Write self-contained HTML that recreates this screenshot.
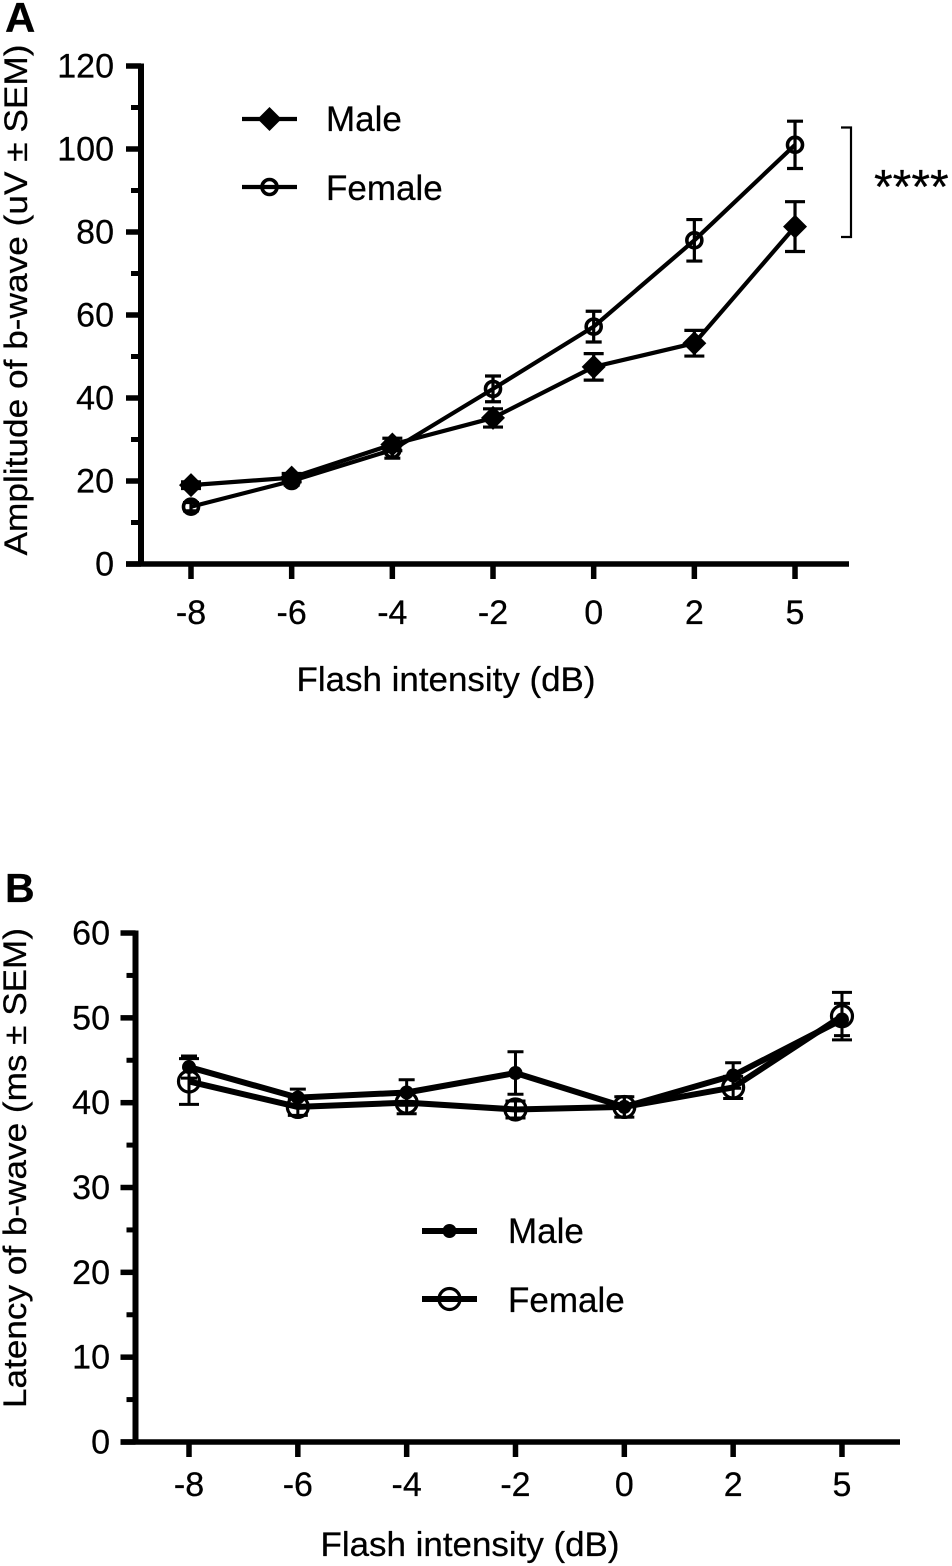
<!DOCTYPE html>
<html lang="en">
<head>
<meta charset="utf-8">
<title>Amplitude and latency of b-wave by flash intensity</title>
<style>
html,body{margin:0;padding:0;background:#fff;width:952px;height:1566px;overflow:hidden}
svg{display:block}
text{font-family:"Liberation Sans",Arial,sans-serif;fill:#000;stroke:#000;stroke-width:0.25px}
</style>
</head>
<body>
<svg id="figure" width="952" height="1566" viewBox="0 0 952 1566" xmlns="http://www.w3.org/2000/svg">
  <rect width="952" height="1566" fill="#fff"/>
  <text x="5" y="32" font-size="42" font-weight="700">A</text>
  <text x="5" y="902" font-size="41" font-weight="700">B</text>
  <text transform="translate(27,300) rotate(-90)" text-anchor="middle" font-size="32" textLength="511" lengthAdjust="spacingAndGlyphs">Amplitude of b-wave (uV ± SEM)</text>
  <text x="446" y="691" text-anchor="middle" font-size="34.5" textLength="299" lengthAdjust="spacingAndGlyphs">Flash intensity (dB)</text>
  <text transform="translate(26,1168) rotate(-90)" text-anchor="middle" font-size="32" textLength="480" lengthAdjust="spacingAndGlyphs">Latency of b-wave (ms ± SEM)</text>
  <text x="470" y="1556" text-anchor="middle" font-size="34.5" textLength="299" lengthAdjust="spacingAndGlyphs">Flash intensity (dB)</text>
  <text x="326" y="131" font-size="35">Male</text>
  <text x="326" y="200" font-size="35">Female</text>
  <text x="508" y="1243" font-size="35">Male</text>
  <text x="508" y="1312" font-size="35">Female</text>
  <path d="M841 127.500H851V237H841" fill="none" stroke="#000" stroke-width="2.200"/>
  <text x="874" y="203" font-size="48">****</text>
</svg>
<script>
const categories = ['-8', '-6', '-4', '-2', '0', '2', '5'];

const amplitudeTicks = [0, 20, 40, 60, 80, 100, 120];
const amplitudeMinorTicks = [10, 30, 50, 70, 90, 110];
const amplitudeMale = [19, 20.8, 28.8, 35.2, 47.5, 53.2, 81.3];
const amplitudeMaleSem = [0.8, 1, 1.5, 2.2, 3.2, 3.1, 6];
const amplitudeFemale = [13.8, 20, 27.5, 42.2, 57.2, 78, 101];
const amplitudeFemaleSem = [1, 1, 2, 3.1, 3.7, 5, 5.7];

const latencyTicks = [0, 10, 20, 30, 40, 50, 60];
const latencyMinorTicks = [5, 15, 25, 35, 45, 55];
const latencyMale = [44.2, 40.6, 41.2, 43.5, 39.5, 43.2, 49.8];
const latencyMaleSem = [1.3, 1, 1.5, 2.5, 1.2, 1.5, 1.9];
const latencyFemale = [42.5, 39.5, 40, 39.2, 39.5, 41.8, 50.2];
const latencyFemaleSem = [2.7, 1, 1.3, 1, 1.2, 1.3, 2.8];

const svg = document.getElementById('figure');
const INK = '#000';
const NS = 'http://www.w3.org/2000/svg';

function add(tag, attrs) {
  const el = document.createElementNS(NS, tag);
  for (const k in attrs) el.setAttribute(k, attrs[k]);
  svg.appendChild(el);
  return el;
}

function drawMarker(kind, x, y, size, strokeW, name) {
  let el;
  if (kind === 'diamond') {
    el = add('polygon', {points: [x - size, y, x, y - size, x + size, y, x, y + size].join(' '), fill: INK});
  } else if (kind === 'dot') {
    el = add('circle', {cx: x, cy: y, r: size, fill: INK});
  } else {
    el = add('circle', {cx: x, cy: y, r: size, fill: 'none', stroke: INK, 'stroke-width': strokeW});
  }
  
  
}

function drawSeries(p, key, values, sem, kind, size, capHalf) {
  const points = values.map((v, i) => p.xScale(i) + ',' + p.yScale(v)).join(' ');
  const line = add('polyline', {points: points, fill: 'none', stroke: INK, 'stroke-width': p.lineW, 'stroke-linejoin': 'round'});
  
  
  values.forEach((v, i) => {
    const x = p.xScale(i);
    const top = p.yScale(v + sem[i]);
    const bottom = p.yScale(v - sem[i]);
    const d = 'M' + x + ' ' + top + 'V' + bottom +
      'M' + (x - capHalf) + ' ' + top + 'H' + (x + capHalf) +
      'M' + (x - capHalf) + ' ' + bottom + 'H' + (x + capHalf);
    const err = add('path', {d: d, fill: 'none', stroke: INK, 'stroke-width': p.errW});
    
    
  });
  values.forEach((v, i) => {
    drawMarker(kind, p.xScale(i), p.yScale(v), size, p.ringW, p.id + '-' + key + '-point');
  });
}

function drawAxes(p, ticks, minorTicks) {
  const yAxis = add('line', {x1: p.axisX, x2: p.axisX, y1: p.yScale(p.yMax) - 2.500, y2: p.yScale(0) + 2.500, stroke: INK, 'stroke-width': 6});
  
  
  const xAxis = add('line', {x1: p.axisX - p.majorLen, x2: p.axisEnd, y1: p.yScale(0), y2: p.yScale(0), stroke: INK, 'stroke-width': 5.500});
  
  
  ticks.forEach(t => {
    const y = p.yScale(t);
    const tick = add('line', {x1: p.axisX - p.majorLen, x2: p.axisX, y1: y, y2: y, stroke: INK, 'stroke-width': 5.500});
    
    
    const label = add('text', {x: p.labelRight, y: y + 11.500, 'text-anchor': 'end', 'font-size': 34});
    label.textContent = String(t);
    
    
  });
  minorTicks.forEach(t => {
    const y = p.yScale(t);
    const tick = add('line', {x1: p.axisX - p.minorLen, x2: p.axisX, y1: y, y2: y, stroke: INK, 'stroke-width': 5});
    
    
  });
  categories.forEach((c, i) => {
    const x = p.xScale(i);
    const tick = add('line', {x1: x, x2: x, y1: p.yScale(0), y2: p.yScale(0) + 15, stroke: INK, 'stroke-width': 5.500});
    
    
    const label = add('text', {x: x, y: p.xLabelY, 'text-anchor': 'middle', 'font-size': 34});
    label.textContent = c;
    
    
  });
}

function drawLegendEntry(p, key, y, kind, size) {
  const line = add('line', {x1: p.legendX, x2: p.legendX + 55, y1: y, y2: y, stroke: INK, 'stroke-width': p.lineW});
  
  
  drawMarker(kind, p.legendX + 27.500, y, size, p.ringW, p.id + '-legend-' + key + '-marker');
}

const panelA = {
  id: 'panel-a', axisX: 141, axisEnd: 849, majorLen: 15, minorLen: 10, labelRight: 114,
  xLabelY: 624, yMax: 120, lineW: 4.200, errW: 3.200, ringW: 3.600, legendX: 242,
  xScale: i => 191 + i * 100.670,
  yScale: v => 564 - v * 4.150
};
const panelB = {
  id: 'panel-b', axisX: 135.500, axisEnd: 900, majorLen: 15, minorLen: 9, labelRight: 110,
  xLabelY: 1496, yMax: 60, lineW: 6, errW: 3, ringW: 3.200, legendX: 422,
  xScale: i => 189 + i * 108.830,
  yScale: v => 1442 - v * 8.483
};

drawAxes(panelA, amplitudeTicks, amplitudeMinorTicks);
drawSeries(panelA, 'male', amplitudeMale, amplitudeMaleSem, 'diamond', 12, 10);
drawSeries(panelA, 'female', amplitudeFemale, amplitudeFemaleSem, 'ring', 7.500, 8);
drawLegendEntry(panelA, 'male', 119, 'diamond', 12);
drawLegendEntry(panelA, 'female', 187, 'ring', 7.500);

drawAxes(panelB, latencyTicks, latencyMinorTicks);
drawSeries(panelB, 'male', latencyMale, latencyMaleSem, 'dot', 7, 8);
drawSeries(panelB, 'female', latencyFemale, latencyFemaleSem, 'ring', 10.500, 10);
drawLegendEntry(panelB, 'male', 1231, 'dot', 7);
drawLegendEntry(panelB, 'female', 1299, 'ring', 10.500);
</script>
</body>
</html>
